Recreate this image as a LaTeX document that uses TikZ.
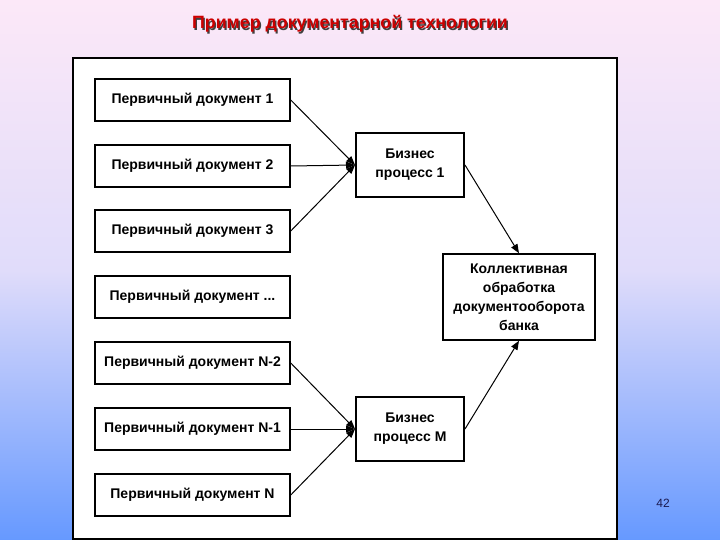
\documentclass[tikz,border=0pt]{standalone}
\usepackage{fontspec}
\setmainfont{Liberation Sans}
\usetikzlibrary{arrows.meta,shadings}
\definecolor{bgtop}{HTML}{FCE8F8}
\definecolor{bgmid}{HTML}{E0DCFA}
\definecolor{bgbot}{HTML}{6699FF}
\definecolor{titlered}{HTML}{CC0000}
\definecolor{numblue}{HTML}{1A1A50}
\tikzset{
  docbox/.style={draw=black, line width=1.5pt, fill=white, minimum width=195pt, minimum height=42pt, inner sep=0pt, font=\fontsize{14}{16}\selectfont\bfseries},
  procbox/.style={draw=black, line width=2pt, fill=white, minimum width=108pt, minimum height=64pt, inner sep=0pt, align=center, font=\fontsize{14}{19}\selectfont\bfseries},
  collbox/.style={draw=black, line width=1.5pt, fill=white, minimum width=152pt, minimum height=86pt, inner sep=0pt, align=center, font=\fontsize{14}{19}\selectfont\bfseries},
  conn/.style={line width=1pt, -{Triangle[length=9pt,width=7pt]}},
  titlefont/.style={font=\fontsize{17.8}{20}\selectfont\bfseries},
}
\begin{document}
\begin{tikzpicture}[x=1pt,y=-1pt]
\useasboundingbox (0,0) rectangle (720,540);
\shade[top color=bgtop, bottom color=bgbot, middle color=bgmid] (0,0) rectangle (720,540);
% frame
\node[draw=black, line width=2pt, fill=white, minimum width=544pt, minimum height=481pt, inner sep=0pt, anchor=north west] (frame) at (72,57) {};
% title with shadow
\node[titlefont, text=black!75] (titleshadow) at (351.3,25.3) {Пример документарной технологии};
\node[titlefont, text=titlered] (title) at (350,24) {Пример документарной технологии};
% doc boxes
\node[docbox] (d1) at (192.5,100) {Первичный документ 1};
\node[docbox] (d2) at (192.5,166) {Первичный документ 2};
\node[docbox] (d3) at (192.5,231) {Первичный документ 3};
\node[docbox] (d4) at (192.5,297) {Первичный документ ...};
\node[docbox] (d5) at (192.5,363) {Первичный документ N-2};
\node[docbox] (d6) at (192.5,429) {Первичный документ N-1};
\node[docbox] (d7) at (192.5,495) {Первичный документ N};
% process boxes
\node[procbox] (p1) at (410,165) {Бизнес\\процесс 1};
\node[procbox] (pm) at (410,429) {Бизнес\\процесс М};
\node[collbox] (c) at (519,297) {Коллективная\\обработка\\документооборота\\банка};
% connectors
\draw[conn] (d1.east) -- (p1.west);
\draw[conn] (d2.east) -- (p1.west);
\draw[conn] (d3.east) -- (p1.west);
\draw[conn] (d5.east) -- (pm.west);
\draw[conn] (d6.east) -- (pm.west);
\draw[conn] (d7.east) -- (pm.west);
\draw[conn] (p1.east) -- (c.north);
\draw[conn] (pm.east) -- (c.south);
% page number
\node[font=\fontsize{12}{14}\selectfont, text=numblue] (num) at (663,503) {42};
\end{tikzpicture}
\end{document}
